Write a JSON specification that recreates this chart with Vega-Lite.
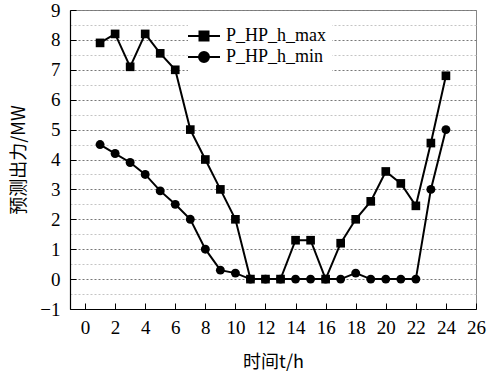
{
  "$schema": "https://vega.github.io/schema/vega-lite/v6.json",
  "width": 406,
  "height": 299,
  "autosize": {"type": "none"},
  "padding": {"left": 70, "top": 10, "right": 18, "bottom": 65},
  "config": {
    "view": {"stroke": "#888", "strokeWidth": 1},
    "axis": {
      "labelFont": "Liberation Serif",
      "labelFontSize": 19,
      "labelColor": "black",
      "labelOverlap": false,
      "labelFlush": false,
      "domainColor": "black",
      "domainWidth": 1.2,
      "tickColor": "black",
      "titleFont": "Noto Sans CJK SC",
      "titleFontSize": 18,
      "titleFontWeight": "normal",
      "titleColor": "black"
    },
    "legend": {"labelFont": "Liberation Serif"}
  },
  "data": {
    "values": [
      {"t": 1, "series": "P_HP_h_max", "value": 7.9},
      {"t": 2, "series": "P_HP_h_max", "value": 8.2},
      {"t": 3, "series": "P_HP_h_max", "value": 7.1},
      {"t": 4, "series": "P_HP_h_max", "value": 8.2},
      {"t": 5, "series": "P_HP_h_max", "value": 7.55},
      {"t": 6, "series": "P_HP_h_max", "value": 7.0},
      {"t": 7, "series": "P_HP_h_max", "value": 5.0},
      {"t": 8, "series": "P_HP_h_max", "value": 4.0},
      {"t": 9, "series": "P_HP_h_max", "value": 3.0},
      {"t": 10, "series": "P_HP_h_max", "value": 2.0},
      {"t": 11, "series": "P_HP_h_max", "value": 0},
      {"t": 12, "series": "P_HP_h_max", "value": 0},
      {"t": 13, "series": "P_HP_h_max", "value": 0},
      {"t": 14, "series": "P_HP_h_max", "value": 1.3},
      {"t": 15, "series": "P_HP_h_max", "value": 1.3},
      {"t": 16, "series": "P_HP_h_max", "value": 0},
      {"t": 17, "series": "P_HP_h_max", "value": 1.2},
      {"t": 18, "series": "P_HP_h_max", "value": 2.0},
      {"t": 19, "series": "P_HP_h_max", "value": 2.6},
      {"t": 20, "series": "P_HP_h_max", "value": 3.6},
      {"t": 21, "series": "P_HP_h_max", "value": 3.2},
      {"t": 22, "series": "P_HP_h_max", "value": 2.45},
      {"t": 23, "series": "P_HP_h_max", "value": 4.55},
      {"t": 24, "series": "P_HP_h_max", "value": 6.8},
      {"t": 1, "series": "P_HP_h_min", "value": 4.5},
      {"t": 2, "series": "P_HP_h_min", "value": 4.2},
      {"t": 3, "series": "P_HP_h_min", "value": 3.9},
      {"t": 4, "series": "P_HP_h_min", "value": 3.5},
      {"t": 5, "series": "P_HP_h_min", "value": 2.95},
      {"t": 6, "series": "P_HP_h_min", "value": 2.5},
      {"t": 7, "series": "P_HP_h_min", "value": 2.0},
      {"t": 8, "series": "P_HP_h_min", "value": 1.0},
      {"t": 9, "series": "P_HP_h_min", "value": 0.3},
      {"t": 10, "series": "P_HP_h_min", "value": 0.2},
      {"t": 11, "series": "P_HP_h_min", "value": 0},
      {"t": 12, "series": "P_HP_h_min", "value": 0},
      {"t": 13, "series": "P_HP_h_min", "value": 0},
      {"t": 14, "series": "P_HP_h_min", "value": 0},
      {"t": 15, "series": "P_HP_h_min", "value": 0},
      {"t": 16, "series": "P_HP_h_min", "value": 0},
      {"t": 17, "series": "P_HP_h_min", "value": 0},
      {"t": 18, "series": "P_HP_h_min", "value": 0.2},
      {"t": 19, "series": "P_HP_h_min", "value": 0},
      {"t": 20, "series": "P_HP_h_min", "value": 0},
      {"t": 21, "series": "P_HP_h_min", "value": 0},
      {"t": 22, "series": "P_HP_h_min", "value": 0},
      {"t": 23, "series": "P_HP_h_min", "value": 3.0},
      {"t": 24, "series": "P_HP_h_min", "value": 5.0}
    ]
  },
  "encoding": {
    "x": {
      "field": "t", "type": "quantitative",
      "scale": {"domain": [-1, 26], "nice": false},
      "axis": {
        "values": [0, 2, 4, 6, 8, 10, 12, 14, 16, 18, 20, 22, 24, 26],
        "tickSize": -6, "labelPadding": 15, "grid": false, "labelOverlap": false,
        "labelFont": "Liberation Serif", "labelFontSize": 19,
        "title": "时间t/h", "titlePadding": 16
      }
    }
  },
  "layer": [
    {
      "mark": {"type": "line", "strokeWidth": 2},
      "encoding": {
        "y": {
          "field": "value", "type": "quantitative",
          "scale": {"domain": [-1, 9], "nice": false},
          "axis": {
            "values": [-1, 0, 1, 2, 3, 4, 5, 6, 7, 8, 9],
            "tickSize": -6, "labelPadding": 16, "labelOverlap": false,
            "labelFont": "Liberation Serif", "labelFontSize": 19,
            "grid": true, "gridColor": "#777", "gridDash": [2, 2], "gridWidth": 1,
            "title": "预测出力/MW", "titlePadding": 11
          }
        },
        "color": {
          "field": "series", "type": "nominal",
          "scale": {"domain": ["P_HP_h_max", "P_HP_h_min"], "range": ["black", "black"]},
          "legend": {
            "orient": "none", "legendX": 118, "legendY": 10,
            "title": null, "fillColor": "white", "padding": 5,
            "symbolSize": 400, "symbolStrokeWidth": 2,
            "symbolFillColor": "black", "symbolStrokeColor": "black",
            "symbolType": {"expr": "datum.value === 'P_HP_h_max' ? 'M-1.6,0H1.6M-0.45,-0.45H0.45V0.45H-0.45Z' : 'M-1.6,0H1.6M0.5,0A0.5,0.5,0,1,1,-0.5,0A0.5,0.5,0,1,1,0.5,0Z'"},
            "labelFont": "Liberation Serif", "labelFontSize": 18, "labelColor": "black",
            "labelOffset": 11, "rowPadding": 1
          }
        }
      }
    },
    {
      "transform": [{"filter": "datum.series === 'P_HP_h_max'"}],
      "mark": {"type": "square", "filled": true, "color": "black", "opacity": 1, "size": 75},
      "encoding": {
        "y": {
          "field": "value", "type": "quantitative",
          "axis": {
            "orient": "right", "values": [-0.5, 0.5, 1.5, 2.5, 3.5, 4.5, 5.5, 6.5, 7.5, 8.5],
            "labels": false, "ticks": false, "domain": false, "title": null,
            "grid": true, "gridColor": "#c4c4c4", "gridDash": [2, 2], "gridWidth": 1
          }
        }
      }
    },
    {
      "transform": [{"filter": "datum.series === 'P_HP_h_min'"}],
      "mark": {"type": "circle", "color": "black", "opacity": 1, "size": 80},
      "encoding": {
        "y": {"field": "value", "type": "quantitative", "axis": null}
      }
    }
  ],
  "resolve": {"axis": {"y": "independent"}}
}
